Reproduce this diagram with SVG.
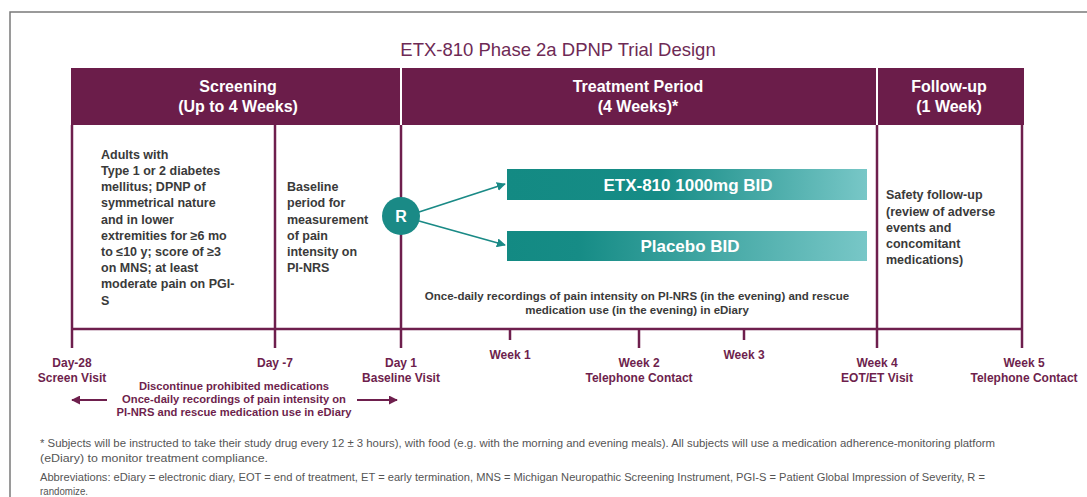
<svg xmlns="http://www.w3.org/2000/svg" width="1087" height="497" viewBox="0 0 1087 497">
<style>
.hdr{font-family:"Liberation Sans",Arial,sans-serif;font-weight:bold;font-size:16px;fill:#ffffff;text-anchor:middle}
.body{font-family:"Liberation Sans",Arial,sans-serif;font-weight:bold;font-size:12.5px;fill:#3a3a3a}
.bodyc{font-family:"Liberation Sans",Arial,sans-serif;font-weight:bold;font-size:11.5px;fill:#3a3a3a;text-anchor:middle}
.tl{font-family:"Liberation Sans",Arial,sans-serif;font-weight:bold;font-size:12px;fill:#6e1f4d;text-anchor:middle}
.tl2{font-family:"Liberation Sans",Arial,sans-serif;font-weight:bold;font-size:11.2px;fill:#6e1f4d;text-anchor:middle}
.bar{font-family:"Liberation Sans",Arial,sans-serif;font-weight:bold;font-size:17px;fill:#ffffff;text-anchor:middle}
.foot{font-family:"Liberation Sans",Arial,sans-serif;font-size:10px;fill:#555555}
.pl{stroke:#6e1f4d;stroke-width:2.5;fill:none}
.tk{stroke:#6e1f4d;stroke-width:2.5}
</style>
<defs>
<linearGradient id="g1" x1="0" y1="0" x2="1" y2="0">
<stop offset="0" stop-color="#138a83"/>
<stop offset="0.42" stop-color="#168c86"/>
<stop offset="1" stop-color="#78c7c7"/>
</linearGradient>
<linearGradient id="g2" x1="0" y1="0" x2="1" y2="0">
<stop offset="0" stop-color="#138a83"/>
<stop offset="0.2" stop-color="#168c86"/>
<stop offset="1" stop-color="#78c7c7"/>
</linearGradient>
<marker id="ta" viewBox="0 0 10 10" refX="9" refY="5" markerWidth="5" markerHeight="5" orient="auto">
<path d="M0,0 L10,5 L0,10 z" fill="#1a8a86"/>
</marker>
<marker id="pa" viewBox="0 0 10 10" refX="9" refY="5" markerWidth="4.5" markerHeight="4.5" orient="auto">
<path d="M0,0 L10,5 L0,10 z" fill="#6e1f4d"/>
</marker>
</defs>
<rect width="1087" height="497" fill="#ffffff"/>
<path d="M10,500 L10,12 L1090,12" fill="none" stroke="#7a7a7a" stroke-width="1.5"/>
<text x="558" y="56" font-family="Liberation Sans, Arial, sans-serif" font-size="18.5" fill="#6e2a55" text-anchor="middle">ETX-810 Phase 2a DPNP Trial Design</text>

<g id="header">
<rect x="71" y="68" width="953" height="57" fill="#6b1d4a"/>
<line x1="401" y1="68" x2="401" y2="125" stroke="#ffffff" stroke-width="2"/>
<line x1="877" y1="68" x2="877" y2="125" stroke="#ffffff" stroke-width="2"/>
</g>
<g id="screening-header">
<text class="hdr" x="238" y="92">Screening</text>
<text class="hdr" x="238" y="112">(Up to 4 Weeks)</text>
</g>
<g id="treatment-header">
<text class="hdr" x="638" y="92">Treatment Period</text>
<text class="hdr" x="638" y="112">(4 Weeks)*</text>
</g>
<g id="followup-header">
<text class="hdr" x="949" y="92">Follow-up</text>
<text class="hdr" x="949" y="112">(1 Week)</text>
</g>

<g id="frame">
<line class="pl" x1="72" y1="125" x2="72" y2="348"/>
<line class="pl" x1="275" y1="125" x2="275" y2="348"/>
<line class="pl" x1="401" y1="125" x2="401" y2="348"/>
<line class="pl" x1="877" y1="125" x2="877" y2="348"/>
<line class="pl" x1="1022" y1="125" x2="1022" y2="348"/>
<line class="pl" x1="71" y1="329" x2="1023" y2="329"/>
<line class="tk" x1="510" y1="329" x2="510" y2="340"/>
<line class="tk" x1="639" y1="329" x2="639" y2="348"/>
<line class="tk" x1="744" y1="329" x2="744" y2="340"/>
</g>

<g id="inclusion">
<text class="body" x="101" y="159">Adults with</text>
<text class="body" x="101" y="175">Type 1 or 2 diabetes</text>
<text class="body" x="101" y="191">mellitus; DPNP of</text>
<text class="body" x="101" y="207">symmetrical nature</text>
<text class="body" x="101" y="224">and in lower</text>
<text class="body" x="101" y="240">extremities for ≥6 mo</text>
<text class="body" x="101" y="256">to ≤10 y; score of ≥3</text>
<text class="body" x="101" y="272">on MNS; at least</text>
<text class="body" x="101" y="288">moderate pain on PGI-</text>
<text class="body" x="101" y="305">S</text>
</g>
<g id="baseline">
<text class="body" x="287" y="191">Baseline</text>
<text class="body" x="287" y="207">period for</text>
<text class="body" x="287" y="224">measurement</text>
<text class="body" x="287" y="240">of pain</text>
<text class="body" x="287" y="256">intensity on</text>
<text class="body" x="287" y="272">PI-NRS</text>
</g>
<g id="safety">
<text class="body" x="886" y="199">Safety follow-up</text>
<text class="body" x="886" y="216">(review of adverse</text>
<text class="body" x="886" y="232">events and</text>
<text class="body" x="886" y="248">concomitant</text>
<text class="body" x="886" y="264">medications)</text>
</g>

<g id="connectors">
<line x1="419" y1="212" x2="505" y2="184" stroke="#1a8a86" stroke-width="1.8" marker-end="url(#ta)"/>
<line x1="419" y1="221" x2="505" y2="245" stroke="#1a8a86" stroke-width="1.8" marker-end="url(#ta)"/>
<line x1="107" y1="400" x2="72" y2="400" stroke="#6e1f4d" stroke-width="2" marker-end="url(#pa)"/>
<line x1="357" y1="400" x2="397" y2="400" stroke="#6e1f4d" stroke-width="2" marker-end="url(#pa)"/>
</g>

<g id="randomize">
<circle cx="401" cy="216" r="19" fill="#1a8a86"/>
<text x="401" y="222" font-family="Liberation Sans, Arial, sans-serif" font-weight="bold" font-size="16" fill="#ffffff" text-anchor="middle">R</text>
</g>
<g id="etx-arm">
<rect x="507" y="169" width="360" height="31" fill="url(#g1)"/>
<text class="bar" x="688" y="191">ETX-810 1000mg BID</text>
</g>
<g id="placebo-arm">
<rect x="507" y="231" width="360" height="30" fill="url(#g2)"/>
<text class="bar" x="690" y="252">Placebo BID</text>
</g>
<g id="treatment-note">
<text class="bodyc" x="637" y="300">Once-daily recordings of pain intensity on PI-NRS (in the evening) and rescue</text>
<text class="bodyc" x="637" y="314">medication use (in the evening) in eDiary</text>
</g>

<g id="timeline-labels">
<text class="tl" x="72" y="367">Day-28</text>
<text class="tl" x="72" y="382">Screen Visit</text>
<text class="tl" x="275" y="367">Day -7</text>
<text class="tl" x="401" y="367">Day 1</text>
<text class="tl" x="401" y="382">Baseline Visit</text>
<text class="tl" x="510" y="359">Week 1</text>
<text class="tl" x="639" y="367">Week 2</text>
<text class="tl" x="639" y="382">Telephone Contact</text>
<text class="tl" x="744" y="359">Week 3</text>
<text class="tl" x="877" y="367">Week 4</text>
<text class="tl" x="877" y="382">EOT/ET Visit</text>
<text class="tl" x="1024" y="367">Week 5</text>
<text class="tl" x="1024" y="382">Telephone Contact</text>
</g>
<g id="screening-note">
<text class="tl2" x="234" y="390">Discontinue prohibited medications</text>
<text class="tl2" x="234" y="403">Once-daily recordings of pain intensity on</text>
<text class="tl2" x="234" y="416">PI-NRS and rescue medication use in eDiary</text>
</g>

<g id="footnotes">
<text class="foot" x="40" y="447" textLength="955" lengthAdjust="spacingAndGlyphs">* Subjects will be instructed to take their study drug every 12 ± 3 hours), with food (e.g. with the morning and evening meals). All subjects will use a medication adherence-monitoring platform</text>
<text class="foot" x="40" y="462" textLength="228" lengthAdjust="spacingAndGlyphs">(eDiary) to monitor treatment compliance.</text>
<text class="foot" x="40" y="481" textLength="945" lengthAdjust="spacingAndGlyphs">Abbreviations: eDiary = electronic diary, EOT = end of treatment, ET = early termination, MNS = Michigan Neuropathic Screening Instrument, PGI-S = Patient Global Impression of Severity, R =</text>
<text class="foot" x="40" y="495" textLength="48" lengthAdjust="spacingAndGlyphs">randomize.</text>
</g>
</svg>
